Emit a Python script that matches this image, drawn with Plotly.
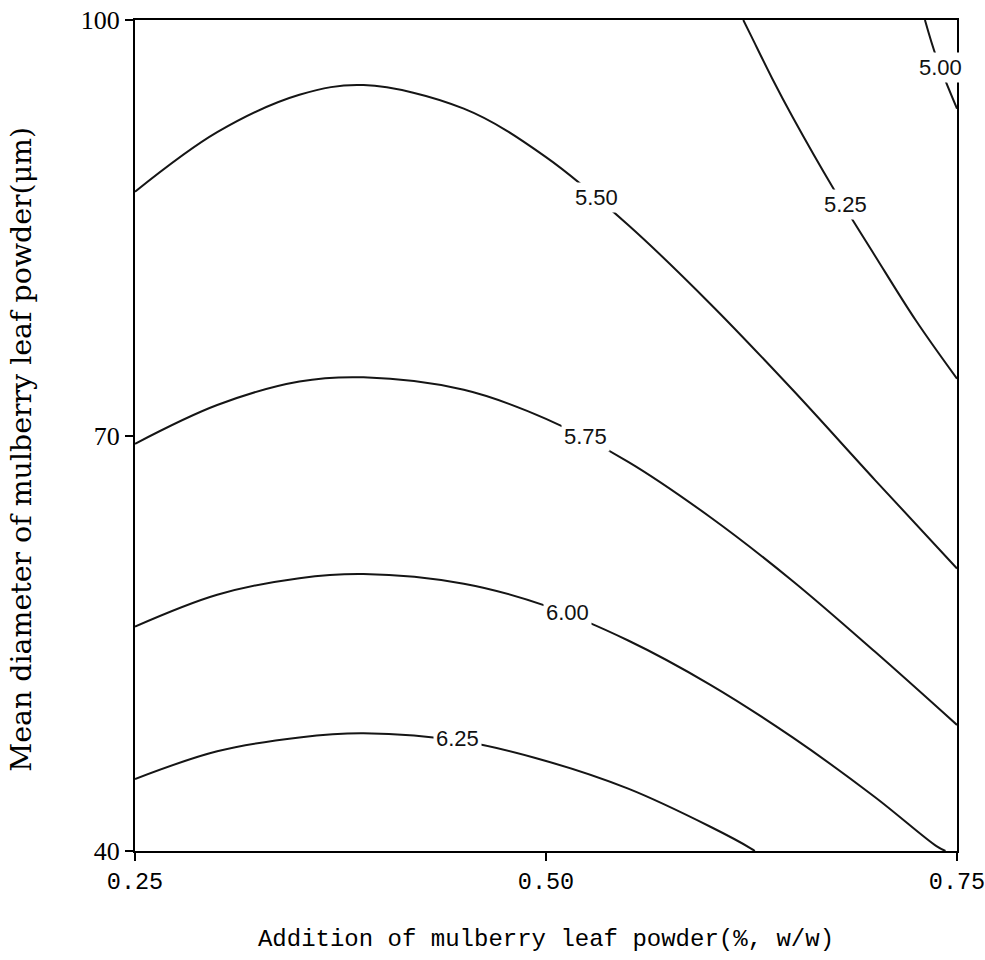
import plotly.graph_objects as go

# Contour levels and points read along each contour line of the reference
levels = ["5.00", "5.25", "5.50", "5.75", "6.00", "6.25"]

x_500 = [0.7305, 0.7375, 0.75]
y_500 = [100.0, 97.3, 93.6]

x_525 = [0.620, 0.625, 0.6375, 0.65, 0.675, 0.70, 0.725, 0.75]
y_525 = [100.0, 98.8, 95.8, 93.0, 87.8, 83.0, 78.3, 74.1]

x_550 = [0.25, 0.30, 0.35, 0.389, 0.45, 0.50, 0.55, 0.60, 0.65, 0.70, 0.75]
y_550 = [87.6, 91.9, 94.6, 95.3, 93.6, 90.1, 85.2, 79.5, 73.3, 66.8, 60.4]

x_575 = [0.25, 0.30, 0.35, 0.389, 0.45, 0.50, 0.55, 0.60, 0.65, 0.70, 0.75]
y_575 = [69.4, 72.2, 73.9, 74.2, 73.3, 71.2, 68.1, 64.1, 59.5, 54.4, 49.1]

x_600 = [0.25, 0.30, 0.35, 0.389, 0.45, 0.50, 0.55, 0.60, 0.65, 0.70, 0.7375, 0.743]
y_600 = [56.2, 58.5, 59.7, 60.0, 59.3, 57.7, 55.2, 52.0, 48.2, 43.9, 40.35, 40.0]

x_625 = [0.25, 0.30, 0.35, 0.389, 0.45, 0.50, 0.55, 0.60, 0.625, 0.627]
y_625 = [45.2, 47.2, 48.2, 48.5, 47.9, 46.5, 44.5, 41.75, 40.16, 40.0]

contour_x = [x_500, x_525, x_550, x_575, x_600, x_625]
contour_y = [y_500, y_525, y_550, y_575, y_600, y_625]

# Where each level label sits on its line
label_x = [0.740, 0.682, 0.531, 0.524, 0.513, 0.446]
label_y = [96.6, 86.7, 87.2, 69.9, 57.2, 48.1]

x_ticks = [0.25, 0.50, 0.75]
x_ticktext = ["0.25", "0.50", "0.75"]
y_ticks = [40, 70, 100]
y_ticktext = ["40", "70", "100"]

x_title = "Addition of mulberry leaf powder(%, w/w)"
y_title = "Mean diameter of mulberry leaf powder(\u03bcm)"

fig = go.Figure()
for cx, cy, lv in zip(contour_x, contour_y, levels):
    fig.add_trace(go.Scatter(
        x=cx, y=cy, mode="lines", name=lv,
        line=dict(color="#151515", width=2, shape="spline", smoothing=1.0),
        showlegend=False, hoverinfo="skip", cliponaxis=True,
    ))

for lx, ly, lv in zip(label_x, label_y, levels):
    fig.add_annotation(
        x=lx, y=ly, text=lv, showarrow=False,
        font=dict(family="Liberation Sans", size=22, color="#111"),
        bgcolor="white", borderpad=2,
    )

# y-axis title placed as a rotated annotation (slightly below the plot centre, as in the source)
fig.add_annotation(
    xref="paper", yref="paper", x=-0.1375, y=0.484,
    xanchor="center", yanchor="middle", textangle=-90,
    text=y_title, showarrow=False,
    font=dict(family="DejaVu Serif", size=28.4, color="black"),
)

fig.update_layout(
    width=985, height=960,
    margin=dict(l=135, r=28, t=20, b=109),
    paper_bgcolor="white", plot_bgcolor="white",
    xaxis=dict(
        range=[0.25, 0.75], tickvals=x_ticks, ticktext=x_ticktext,
        showgrid=False, zeroline=False, automargin=False,
        ticklabeloverflow="allow",
        showline=True, mirror=True, linecolor="black", linewidth=2,
        ticks="outside", ticklen=8, tickwidth=2, tickcolor="black",
        tickfont=dict(family="Liberation Mono", size=23.5, color="black"),
        title=dict(text=x_title,
                   font=dict(family="Liberation Mono", size=24, color="black"),
                   standoff=34),
    ),
    yaxis=dict(
        range=[40, 100], tickvals=y_ticks, ticktext=y_ticktext,
        showgrid=False, zeroline=False, automargin=False,
        ticklabeloverflow="allow",
        showline=True, mirror=True, linecolor="black", linewidth=2,
        ticks="outside", ticklen=8, tickwidth=2, tickcolor="black",
        tickfont=dict(family="Liberation Serif", size=26, color="black"),
    ),
)

fig.write_html("out.html", config={"displayModeBar": False})
